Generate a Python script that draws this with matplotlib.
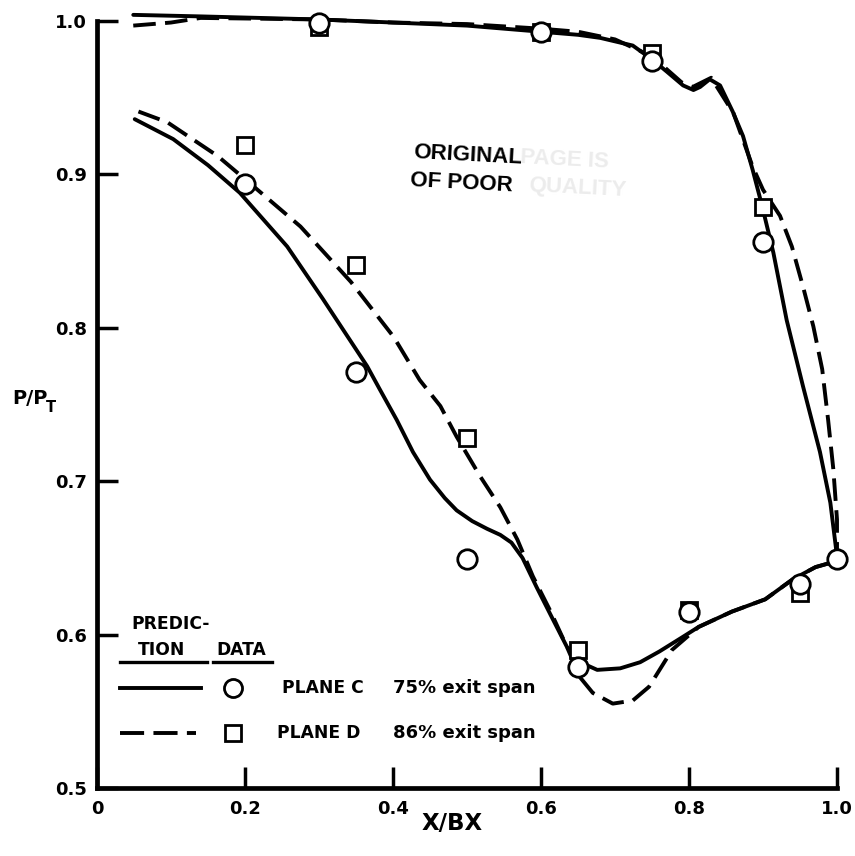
import matplotlib
matplotlib.use("Agg")
import matplotlib.pyplot as plt
from matplotlib.lines import Line2D

# ---------------- data ----------------
# Plane C data (circles)
c_x = [0.20, 0.30, 0.35, 0.50, 0.60, 0.65, 0.75, 0.80, 0.90, 0.95, 1.00]
c_y = [0.894, 0.999, 0.771, 0.649, 0.993, 0.579, 0.974, 0.615, 0.856, 0.633, 0.649]

# Plane D data (squares)
d_x = [0.20, 0.30, 0.35, 0.50, 0.60, 0.65, 0.75, 0.80, 0.90, 0.95]
d_y = [0.919, 0.996, 0.841, 0.728, 0.993, 0.590, 0.979, 0.616, 0.879, 0.627]

# Prediction, Plane C (solid) - suction side
pc_up_x = [0.049, 0.14, 0.30, 0.40, 0.50, 0.60, 0.65, 0.68, 0.724, 0.75, 0.77,
           0.792, 0.806, 0.815, 0.828, 0.842, 0.859, 0.873, 0.886, 0.899,
           0.914, 0.932, 0.954, 0.977, 0.991, 1.00]
pc_up_y = [1.004, 1.003, 1.001, 0.999, 0.997, 0.993, 0.991, 0.989, 0.984, 0.975, 0.967,
           0.958, 0.955, 0.957, 0.962, 0.958, 0.941, 0.925, 0.903, 0.879,
           0.849, 0.805, 0.762, 0.719, 0.686, 0.651]
# Prediction, Plane C (solid) - pressure side
pc_lo_x = [0.051, 0.103, 0.15, 0.193, 0.257, 0.305, 0.365, 0.382, 0.405, 0.427,
           0.450, 0.470, 0.486, 0.507, 0.527, 0.545, 0.560, 0.575, 0.594, 0.616,
           0.635, 0.653, 0.676, 0.707, 0.734, 0.76, 0.79, 0.813, 0.858, 0.903,
           0.940, 0.971, 1.00]
pc_lo_y = [0.936, 0.923, 0.906, 0.888, 0.853, 0.819, 0.775, 0.760, 0.740, 0.719,
           0.701, 0.689, 0.681, 0.674, 0.669, 0.665, 0.660, 0.650, 0.631, 0.610,
           0.592, 0.582, 0.577, 0.578, 0.582, 0.589, 0.598, 0.605, 0.615, 0.623,
           0.636, 0.644, 0.648]

# Prediction, Plane D (dashed) - suction side
pd_up_x = [0.049, 0.10, 0.14, 0.30, 0.40, 0.50, 0.60, 0.65, 0.70, 0.75, 0.79,
           0.805, 0.83, 0.86, 0.886, 0.90, 0.923, 0.939, 0.954, 0.968, 0.980,
           0.988, 0.995, 1.00, 1.00]
pd_up_y = [0.997, 0.999, 1.002, 1.001, 0.999, 0.998, 0.995, 0.993, 0.988, 0.977, 0.960,
           0.957, 0.963, 0.940, 0.905, 0.890, 0.873, 0.853, 0.827, 0.801, 0.773,
           0.740, 0.708, 0.675, 0.650]
# Prediction, Plane D (dashed) - pressure side
pd_lo_x = [0.056, 0.095, 0.163, 0.212, 0.275, 0.343, 0.401, 0.436, 0.464, 0.486,
           0.518, 0.545, 0.568, 0.589, 0.612, 0.635, 0.653, 0.670, 0.697, 0.724,
           0.746, 0.777, 0.813, 0.858, 0.903, 0.940, 0.971, 1.00]
pd_lo_y = [0.941, 0.934, 0.912, 0.892, 0.866, 0.830, 0.794, 0.766, 0.749, 0.729,
           0.703, 0.683, 0.662, 0.638, 0.616, 0.592, 0.572, 0.562, 0.555, 0.557,
           0.566, 0.590, 0.605, 0.615, 0.623, 0.636, 0.644, 0.648]

x_ticks = [0, 0.2, 0.4, 0.6, 0.8, 1.0]
x_tick_labels = ["0", "0.2", "0.4", "0.6", "0.8", "1.0"]
y_ticks = [0.5, 0.6, 0.7, 0.8, 0.9, 1.0]
y_tick_labels = ["0.5", "0.6", "0.7", "0.8", "0.9", "1.0"]

# ---------------- figure ----------------
W, H = 855, 856
plt.rcParams['font.family'] = ['DejaVu Sans']
plt.rcParams['font.weight'] = 'bold'
fig = plt.figure(figsize=(W / 100, H / 100), dpi=100)
fig.patch.set_facecolor('white')

def fx(px):
    return px / W

def fy(py):
    return 1 - py / H

ax_l, ax_r, ax_t, ax_b = 97, 837, 21, 788
ax = fig.add_axes([fx(ax_l), fy(ax_b), (ax_r - ax_l) / W, (ax_b - ax_t) / H])
ax.set_xlim(0, 1.0)
ax.set_ylim(0.5, 1.0)

LW = 2.8
dash = (5.8, 2.4)
ax.plot(pc_up_x, pc_up_y, color='black', lw=LW, solid_capstyle='round',
        solid_joinstyle='round', clip_on=False, zorder=3)
ax.plot(pc_lo_x, pc_lo_y, color='black', lw=LW, solid_capstyle='round',
        solid_joinstyle='round', clip_on=False, zorder=3)
ax.plot(pd_up_x, pd_up_y, color='black', lw=LW, dashes=dash, clip_on=False, zorder=3)
ax.plot(pd_lo_x, pd_lo_y, color='black', lw=LW, dashes=dash, clip_on=False, zorder=3)

ax.plot(d_x, d_y, ls='none', marker='s', ms=12, mfc='white', mec='black', mew=2.0,
        clip_on=False, zorder=4)
ax.plot(c_x, c_y, ls='none', marker='o', ms=14, mfc='white', mec='black', mew=2.0,
        clip_on=False, zorder=5)

for s in ['top', 'right']:
    ax.spines[s].set_visible(False)
for s in ['left', 'bottom']:
    ax.spines[s].set_linewidth(3.4)
    ax.spines[s].set_capstyle('projecting')

ax.set_xticks(x_ticks)
ax.set_xticklabels(x_tick_labels)
ax.set_yticks(y_ticks)
ax.set_yticklabels(y_tick_labels)
ax.tick_params(axis='both', direction='in', length=15, width=2.5, labelsize=13,
               colors='black')
ax.tick_params(axis='x', pad=9)
ax.tick_params(axis='y', pad=7)

# axis labels
fig.text(fx(452), fy(823), "X/BX", fontsize=16.5, ha='center', va='center')
fig.text(fx(12), fy(398), "P/P", fontsize=14, ha='left', va='center')
fig.text(fx(46), fy(408), "T", fontsize=10.5, ha='left', va='center')

# stamp
fig.text(fx(413), fy(155), "ORIGINAL", family='Liberation Sans', fontweight='bold',
         fontsize=16, ha='left', va='center', rotation=-3)
fig.text(fx(520), fy(160), "PAGE IS", family='Liberation Sans', fontweight='bold',
         fontsize=16, ha='left', va='center', rotation=-3, color='#ececec')
fig.text(fx(410), fy(183), "OF POOR", family='Liberation Sans', fontweight='bold',
         fontsize=16, ha='left', va='center', rotation=-3)
fig.text(fx(528), fy(188), "QUALITY", family='Liberation Sans', fontweight='bold',
         fontsize=16, ha='left', va='center', rotation=-3, color='#ececec')

# legend (hand-built)
fig.text(fx(171), fy(624), "PREDIC-", fontsize=12.3, ha='center', va='center')
fig.text(fx(162), fy(650), "TION", fontsize=12.3, ha='center', va='center')
fig.text(fx(241), fy(650), "DATA", fontsize=12.3, ha='center', va='center')
fig.add_artist(Line2D([fx(120), fx(207)], [fy(662), fy(662)], color='black', lw=2.4,
                      transform=fig.transFigure))
fig.add_artist(Line2D([fx(213), fx(272)], [fy(662), fy(662)], color='black', lw=2.4,
                      transform=fig.transFigure))
fig.add_artist(Line2D([fx(120), fx(201)], [fy(688), fy(688)], color='black', lw=LW,
                      transform=fig.transFigure))
fig.add_artist(Line2D([fx(120), fx(196)], [fy(733), fy(733)], color='black', lw=LW,
                      dashes=(6.2, 2.4), transform=fig.transFigure))
fig.add_artist(Line2D([fx(233)], [fy(688)], ls='none', marker='o', ms=13, mfc='white',
                      mec='black', mew=2.0, transform=fig.transFigure))
fig.add_artist(Line2D([fx(233)], [fy(733)], ls='none', marker='s', ms=12, mfc='white',
                      mec='black', mew=2.0, transform=fig.transFigure))
fig.text(fx(282), fy(688), "PLANE C", fontsize=12.3, ha='left', va='center')
fig.text(fx(277), fy(733), "PLANE D", fontsize=12.3, ha='left', va='center')
fig.text(fx(393), fy(688), "75% exit span", fontsize=13, ha='left', va='center')
fig.text(fx(393), fy(733), "86% exit span", fontsize=13, ha='left', va='center')

fig.savefig("out.png", dpi=100, facecolor='white')
